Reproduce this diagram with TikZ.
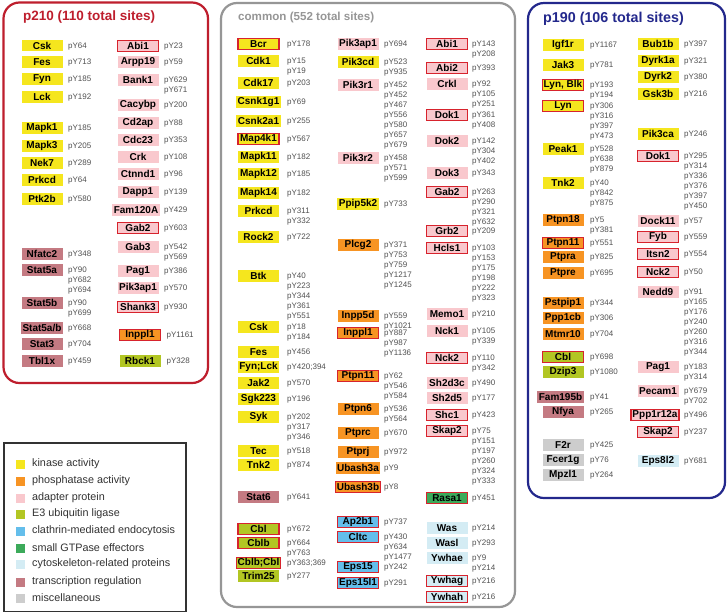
\documentclass[tikz,border=0pt]{standalone}
\usepackage{fontspec}
\setmainfont{Liberation Sans}
\definecolor{kin}{RGB}{245,230,30}
\definecolor{pho}{RGB}{247,148,35}
\definecolor{ada}{RGB}{249,200,205}
\definecolor{eub}{RGB}{178,198,35}
\definecolor{cla}{RGB}{100,190,235}
\definecolor{gtp}{RGB}{60,170,90}
\definecolor{cyt}{RGB}{212,236,244}
\definecolor{tra}{RGB}{196,122,130}
\definecolor{mis}{RGB}{205,205,205}
\definecolor{redo}{RGB}{215,35,45}
\definecolor{pa}{RGB}{190,30,45}
\definecolor{pb}{RGB}{35,40,140}
\definecolor{comc}{RGB}{150,150,150}
\definecolor{pyc}{RGB}{80,80,80}
\definecolor{legc}{RGB}{50,50,50}
\newcommand{\gx}{0}
\newcommand{\gp}{0}
\newcommand{\gene}[5]{%
  \node[gbox,#3] (#1) at (\gx,#2) {#4};
  \node[pyl] (#1p) at (\gp,#2) {#5};
}
\begin{document}
\begin{tikzpicture}[x=1pt,y=-1pt,
 gbox/.style={minimum width=41pt, minimum height=11.5pt, inner xsep=1.5pt, inner ysep=0pt, font=\bfseries\fontsize{10}{11}\selectfont, text=black},
 pyl/.style={anchor=north west, inner sep=0pt, yshift=3pt, align=left, font=\fontsize{8}{9.9}\selectfont, text=pyc},
 kn/.style={fill=kin}, ph/.style={fill=pho}, ad/.style={fill=ada}, eu/.style={fill=eub},
 cl/.style={fill=cla}, gt/.style={fill=gtp}, cy/.style={fill=cyt}, tr/.style={fill=tra}, mi/.style={fill=mis},
 rd/.style={draw=redo, line width=1.2pt},
 pframe/.style={rounded corners=16pt, line width=2.2pt},
 ttl/.style={anchor=west, inner sep=0pt, font=\bfseries\fontsize{13.5}{15}\selectfont},
 legt/.style={anchor=west, inner sep=0pt, font=\fontsize{10.8}{12}\selectfont, text=legc},
 sw/.style={minimum size=9pt, inner sep=0pt}
]
\useasboundingbox (0,0) rectangle (727,614);
\fill[white] (0,0) rectangle (727,614);

% frames
\draw[pframe, draw=pa] (3.5,2.5) rectangle (208,383);
\draw[pframe, draw=comc] (221,3) rectangle (515,607);
\draw[pframe, draw=pb] (528,3) rectangle (725,498);

\node[ttl, text=pa] (t1) at (23,17.5) {p210 (110 total sites)};
\node[ttl, text=comc, font=\bfseries\fontsize{11.6}{14}\selectfont] (t2) at (238,17.5) {common (552 total sites)};
\node[ttl, text=pb, font=\bfseries\fontsize{14.3}{16}\selectfont] (t3) at (543,18.5) {p190 (106 total sites)};

% ---------------- p210 left
\renewcommand{\gx}{42}\renewcommand{\gp}{68}
\gene{a1}{45.7}{kn}{Csk}{pY64}
\gene{a2}{62}{kn}{Fes}{pY713}
\gene{a3}{79}{kn}{Fyn}{pY185}
\gene{a4}{97}{kn}{Lck}{pY192}
\gene{a5}{128}{kn}{Mapk1}{pY185}
\gene{a6}{146}{kn}{Mapk3}{pY205}
\gene{a7}{163}{kn}{Nek7}{pY289}
\gene{a8}{180}{kn}{Prkcd}{pY64}
\gene{a9}{199}{kn}{Ptk2b}{pY580}
\gene{a10}{254}{tr}{Nfatc2}{pY348}
\gene{a11}{270}{tr}{Stat5a}{pY90\\pY682\\pY694}
\gene{a12}{303}{tr}{Stat5b}{pY90\\pY699}
\gene{a13}{328}{tr}{Stat5a/b}{pY668}
\gene{a14}{344}{tr}{Stat3}{pY704}
\gene{a15}{361}{tr}{Tbl1x}{pY459}

% ---------------- p210 right
\renewcommand{\gx}{138}\renewcommand{\gp}{164}
\gene{b1}{46}{ad,rd}{Abi1}{pY23}
\gene{b2}{62}{ad}{Arpp19}{pY59}
\gene{b3}{80}{ad}{Bank1}{pY629\\pY671}
\gene{b4}{105}{ad}{Cacybp}{pY200}
\gene{b5}{123}{ad}{Cd2ap}{pY88}
\gene{b6}{140}{ad}{Cdc23}{pY353}
\gene{b7}{157}{ad}{Crk}{pY108}
\gene{b8}{174}{ad}{Ctnnd1}{pY96}
\gene{b9}{192}{ad}{Dapp1}{pY139}
\renewcommand{\gx}{136}
\gene{b10}{210}{ad}{Fam120A}{pY429}
\renewcommand{\gx}{138}
\gene{b11}{228}{ad,rd}{Gab2}{pY603}
\gene{b12}{247}{ad}{Gab3}{pY542\\pY569}
\gene{b13}{271}{ad}{Pag1}{pY386}
\gene{b14}{288}{ad}{Pik3ap1}{pY570}
\gene{b15}{307}{ad,rd}{Shank3}{pY930}
\renewcommand{\gx}{140}\renewcommand{\gp}{166.5}
\gene{b16}{335}{ph,rd}{Inppl1}{pY1161}
\gene{b17}{361}{eu}{Rbck1}{pY328}

% ---------------- common col 1
\renewcommand{\gx}{258.5}\renewcommand{\gp}{287}
\gene{c1}{44}{kn,rd}{Bcr}{pY178}
\gene{c2}{61}{kn}{Cdk1}{pY15\\pY19}
\gene{c3}{83}{kn}{Cdk17}{pY203}
\gene{c4}{102}{kn}{Csnk1g1}{pY69}
\gene{c5}{121}{kn}{Csnk2a1}{pY255}
\gene{c6}{139}{kn,rd}{Map4k1}{pY567}
\gene{c7}{157}{kn}{Mapk11}{pY182}
\gene{c8}{174}{kn}{Mapk12}{pY185}
\gene{c9}{193}{kn}{Mapk14}{pY182}
\gene{c10}{211}{kn}{Prkcd}{pY311\\pY332}
\gene{c11}{237}{kn}{Rock2}{pY722}
\gene{c12}{276}{kn}{Btk}{pY40\\pY223\\pY344\\pY361\\pY551}
\gene{c13}{327}{kn}{Csk}{pY18\\pY184}
\gene{c14}{352}{kn}{Fes}{pY456}
\gene{c15}{367}{kn}{Fyn;Lck}{pY420;394}
\gene{c16}{383}{kn}{Jak2}{pY570}
\gene{c17}{399}{kn}{Sgk223}{pY196}
\gene{c18}{417}{kn}{Syk}{pY202\\pY317\\pY346}
\gene{c19}{451}{kn}{Tec}{pY518}
\gene{c20}{465}{kn}{Tnk2}{pY874}
\gene{c21}{497}{tr}{Stat6}{pY641}
\gene{c22}{529}{eu,rd}{Cbl}{pY672}
\gene{c23}{543}{eu,rd}{Cblb}{pY664\\pY763}
\gene{c24}{563}{eu,rd}{Cblb;Cbl}{pY363;369}
\gene{c25}{576}{eu}{Trim25}{pY277}

% ---------------- common col 2
\renewcommand{\gx}{358}\renewcommand{\gp}{384}
\gene{d1}{44}{ad}{Pik3ap1}{pY694}
\gene{d2}{62}{kn}{Pik3cd}{pY523\\pY935}
\gene{d3}{85}{ad}{Pik3r1}{pY452\\pY452\\pY467\\pY556\\pY580\\pY657\\pY679}
\gene{d4}{158}{ad}{Pik3r2}{pY458\\pY571\\pY599}
\gene{d5}{204}{kn}{Ppip5k2}{pY733}
\gene{d6}{245}{ph}{Plcg2}{pY371\\pY753\\pY759\\pY1217\\pY1245}
\gene{d7}{316}{ph}{Inpp5d}{pY559\\pY1021}
\gene{d8}{333}{ph,rd}{Inppl1}{pY887\\pY987\\pY1136}
\gene{d9}{376}{ph,rd}{Ptpn11}{pY62\\pY546\\pY584}
\gene{d10}{409}{ph}{Ptpn6}{pY536\\pY564}
\gene{d11}{433}{ph}{Ptprc}{pY670}
\gene{d12}{452}{ph}{Ptprj}{pY972}
\gene{d13}{468}{ph}{Ubash3a}{pY9}
\gene{d14}{487}{ph,rd}{Ubash3b}{pY8}
\gene{d15}{522}{cl,rd}{Ap2b1}{pY737}
\gene{d16}{537}{cl,rd}{Cltc}{pY430\\pY634\\pY1477}
\gene{d17}{567}{cl,rd}{Eps15}{pY242}
\gene{d18}{583}{cl,rd}{Eps15l1}{pY291}

% ---------------- common col 3
\renewcommand{\gx}{447}\renewcommand{\gp}{472}
\gene{e1}{44}{ad,rd}{Abi1}{pY143\\pY208}
\gene{e2}{68}{ad,rd}{Abi2}{pY393}
\gene{e3}{84}{ad}{Crkl}{pY92\\pY105\\pY251}
\gene{e4}{115}{ad,rd}{Dok1}{pY361\\pY408}
\gene{e5}{141}{ad}{Dok2}{pY142\\pY304\\pY402}
\gene{e6}{173}{ad}{Dok3}{pY343}
\gene{e7}{192}{ad,rd}{Gab2}{pY263\\pY290\\pY321\\pY632}
\gene{e8}{231}{ad,rd}{Grb2}{pY209}
\gene{e9}{248}{ad,rd}{Hcls1}{pY103\\pY153\\pY175\\pY198\\pY222\\pY323}
\gene{e10}{314}{ad}{Memo1}{pY210}
\gene{e11}{331}{ad}{Nck1}{pY105\\pY339}
\gene{e12}{358}{ad,rd}{Nck2}{pY110\\pY342}
\gene{e13}{383}{ad}{Sh2d3c}{pY490}
\gene{e14}{398}{ad}{Sh2d5}{pY177}
\gene{e15}{415}{ad,rd}{Shc1}{pY423}
\gene{e16}{431}{ad,rd}{Skap2}{pY75\\pY151\\pY197\\pY260\\pY324\\pY333}
\gene{e17}{498}{gt,rd}{Rasa1}{pY451}
\gene{e18}{528}{cy}{Was}{pY214}
\gene{e19}{543}{cy}{Wasl}{pY293}
\gene{e20}{558}{cy}{Ywhae}{pY9\\pY214}
\gene{e21}{581}{cy,rd}{Ywhag}{pY216}
\gene{e22}{597}{cy,rd}{Ywhah}{pY216}

% ---------------- p190 col 1
\renewcommand{\gx}{563}\renewcommand{\gp}{590}
\gene{f1}{45}{kn}{Igf1r}{pY1167}
\gene{f2}{65}{kn}{Jak3}{pY781}
\gene{f3}{85}{kn,rd}{Lyn, Blk}{pY193\\pY194}
\gene{f4}{106}{kn,rd}{Lyn}{pY306\\pY316\\pY397\\pY473}
\gene{f5}{149}{kn}{Peak1}{pY528\\pY638\\pY879}
\gene{f6}{183}{kn}{Tnk2}{pY40\\pY842\\pY875}
\gene{f7}{220}{ph}{Ptpn18}{pY5\\pY381}
\gene{f8}{243}{ph,rd}{Ptpn11}{pY551}
\gene{f9}{257}{ph}{Ptpra}{pY825}
\gene{f10}{273}{ph}{Ptpre}{pY695}
\gene{f11}{303}{ph}{Pstpip1}{pY344}
\gene{f12}{318}{ph}{Ppp1cb}{pY306}
\gene{f13}{334}{ph}{Mtmr10}{pY704}
\gene{f14}{357}{eu,rd}{Cbl}{pY698}
\gene{f15}{372}{eu}{Dzip3}{pY1080}
\renewcommand{\gx}{560.5}
\gene{f16}{397}{tr}{Fam195b}{pY41}
\renewcommand{\gx}{563}
\gene{f17}{412}{tr}{Nfya}{pY265}
\gene{f18}{445}{mi}{F2r}{pY425}
\gene{f19}{460}{mi}{Fcer1g}{pY76}
\gene{f20}{475}{mi}{Mpzl1}{pY264}

% ---------------- p190 col 2
\renewcommand{\gx}{658}\renewcommand{\gp}{684}
\gene{g1}{44}{kn}{Bub1b}{pY397}
\gene{g2}{61}{kn}{Dyrk1a}{pY321}
\gene{g3}{77}{kn}{Dyrk2}{pY380}
\gene{g4}{94}{kn}{Gsk3b}{pY216}
\gene{g5}{134}{kn}{Pik3ca}{pY246}
\gene{g6}{156}{ad,rd}{Dok1}{pY295\\pY314\\pY336\\pY376\\pY397\\pY450}
\gene{g7}{221}{ad}{Dock11}{pY57}
\gene{g8}{237}{ad,rd}{Fyb}{pY559}
\gene{g9}{254}{ad,rd}{Itsn2}{pY554}
\gene{g10}{272}{ad,rd}{Nck2}{pY50}
\gene{g11}{292}{ad}{Nedd9}{pY91\\pY165\\pY176\\pY240\\pY260\\pY316\\pY344}
\gene{g12}{367}{ad}{Pag1}{pY183\\pY314}
\gene{g13}{391}{ad}{Pecam1}{pY679\\pY702}
\renewcommand{\gx}{655}
\gene{g14}{415}{ad,rd}{Ppp1r12a}{pY496}
\renewcommand{\gx}{658}
\gene{g15}{432}{ad,rd}{Skap2}{pY237}
\gene{g16}{461}{cy}{Eps8l2}{pY681}

% ---------------- legend
\draw[draw=legc, line width=1.2pt] (4,443) rectangle (186,611.5);
\node[sw, fill=kin] (l1) at (20.5,464) {};
\node[legt] (l1t) at (32,464) {kinase activity};
\node[sw, fill=pho] (l2) at (20.5,481) {};
\node[legt] (l2t) at (32,481) {phosphatase activity};
\node[sw, fill=ada] (l3) at (20.5,498) {};
\node[legt] (l3t) at (32,498) {adapter protein};
\node[sw, fill=eub] (l4) at (20.5,514) {};
\node[legt] (l4t) at (32,514) {E3 ubiquitin ligase};
\node[sw, fill=cla] (l5) at (20.5,531) {};
\node[legt] (l5t) at (32,531) {clathrin-mediated endocytosis};
\node[sw, fill=gtp] (l6) at (20.5,548) {};
\node[legt] (l6t) at (32,548) {small GTPase effectors};
\node[sw, fill=cyt] (l7) at (20.5,564) {};
\node[legt] (l7t) at (32,564) {cytoskeleton-related proteins};
\node[sw, fill=tra] (l8) at (20.5,582) {};
\node[legt] (l8t) at (32,582) {transcription regulation};
\node[sw, fill=mis] (l9) at (20.5,598) {};
\node[legt] (l9t) at (32,598) {miscellaneous};
\end{tikzpicture}
\end{document}
